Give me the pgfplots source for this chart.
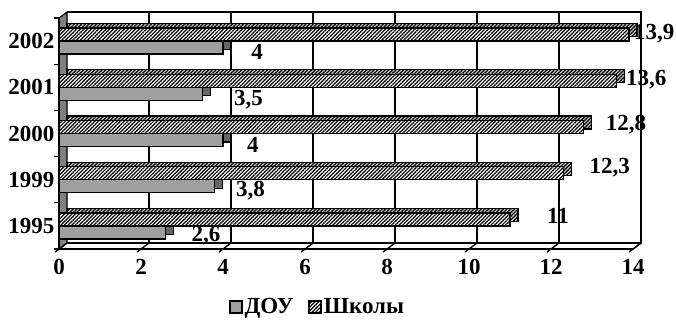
\documentclass[border=0pt]{standalone}
\usepackage{fontspec}
\setmainfont{Liberation Serif}
\usepackage{pgfplots}
\usepackage{pgfplotstable}
\pgfplotsset{compat=1.18}
\usetikzlibrary{patterns.meta}
\pgfplotstableread{
y doy shk
0 2.6 11
1 3.8 12.3
2 4 12.8
3 3.5 13.6
4 4 13.9
}\data
\newcommand\lbl{\fontsize{23}{23}\selectfont\bfseries}
\tikzset{
 shk/.style={pattern={Lines[angle=45,distance=2.6pt,line width=1.2pt]}, pattern color=black},
 doy/.style={fill=gray!75},
}
\begin{document}
\begin{tikzpicture}
\begin{axis}[
 set layers,
 scale only axis, width=574pt, height=231pt,
 anchor=south west, at={(0pt,0pt)},
 xmin=0,xmax=14, ymin=-0.5, ymax=4.5,
 clip=false,
 axis x line*=bottom, axis y line*=left,
 axis line style={line width=1.5pt},
 xtick={0,2,...,14}, ytick={0,...,4},
 yticklabels={1995,1999,2000,2001,2002},
 major tick length=0pt,
 minor ytick={-0.5,0.5,...,4.5}, minor tick length=5pt, tick align=outside,
 minor tick style={line width=1.2pt, black},
 tick label style={font=\lbl},
 /pgf/number format/assume math mode=true,
 xticklabel style={yshift=-7pt},
 yticklabel style={xshift=-1pt},
 legend style={at={(0.45,-0.251)}, anchor=center, draw=none, legend columns=2, font=\lbl, /tikz/every even column/.append style={column sep=12pt}},
]
\begin{pgfonlayer}{axis background}
 \filldraw[fill=gray, draw=black, line width=1.2pt] (axis cs:0,-0.5) -- ([shift={(8pt,6pt)}]axis cs:0,-0.5) -- ([shift={(8pt,6pt)}]axis cs:0,4.5) -- (axis cs:0,4.5) -- cycle;
 \draw[line width=1.4pt] ([shift={(8pt,6pt)}]axis cs:0,4.5) -- ([shift={(8pt,6pt)}]axis cs:14,4.5) -- ([shift={(8pt,6pt)}]axis cs:14,-0.5) -- ([shift={(8pt,6pt)}]axis cs:0,-0.5);
 \draw[line width=1.4pt] (axis cs:14,-0.5) -- ([shift={(8pt,6pt)}]axis cs:14,-0.5);
 \pgfplotsinvokeforeach{2,4,6,8,10,12}{
  \draw[line width=1.4pt] ([shift={(8pt,6pt)}]axis cs:#1,-0.5) -- ([shift={(8pt,6pt)}]axis cs:#1,4.5);
 }
 \pgfplotsinvokeforeach{0,2,4,6,8,10,12,14}{
  \draw[line width=1.4pt] ([shift={(-4pt,-3pt)}]axis cs:#1,-0.5) -- ([shift={(8pt,6pt)}]axis cs:#1,-0.5);
 }
\end{pgfonlayer}
% depth (3D) faces
\addplot[xbar, bar width=13pt, bar shift=11pt, xshift=8pt, draw=black, line width=1.3pt, preaction={fill=gray!45}, shk, forget plot] table[x=shk,y=y]{\data};
\addplot[xbar, bar width=13pt, bar shift=-2pt, xshift=8pt, draw=black, line width=1.3pt, fill=gray!80!black, forget plot] table[x=doy,y=y]{\data};
% front faces
\addplot[xbar, bar width=13pt, bar shift=-6.5pt, draw=black, line width=1.3pt, doy,
 legend image code/.code={\draw[line width=2pt, doy] (0pt,-6pt) rectangle (12pt,6pt);}] table[x=doy,y=y]{\data};
\addplot[xbar, bar width=13pt, bar shift=6.5pt, draw=black, line width=1.3pt, preaction={fill=white}, shk,
 legend image code/.code={\draw[line width=2pt, preaction={fill=white}, shk] (0pt,-6pt) rectangle (12pt,6pt);}] table[x=shk,y=y]{\data};
\legend{ДОУ, Школы}
% data labels
\node[font=\lbl] at (axis cs:4.83,3.775) {4};
\node[font=\lbl] at (axis cs:4.62,2.736) {3,5};
\node[font=\lbl] at (axis cs:4.73,1.751) {4};
\node[font=\lbl] at (axis cs:4.67,0.766) {3,8};
\node[font=\lbl] at (axis cs:3.585,-0.208) {2,6};
\node[font=\lbl] at (axis cs:14.52,4.165) {13,9};
\node[font=\lbl] at (axis cs:14.32,3.169) {13,6};
\node[font=\lbl] at (axis cs:13.83,2.195) {12,8};
\node[font=\lbl] at (axis cs:13.43,1.264) {12,3};
\node[font=\lbl] at (axis cs:12.17,0.225) {11};
\end{axis}
\pgfresetboundingbox
\path (-59pt,-70pt) rectangle (617pt,249pt);
\end{tikzpicture}
\end{document}
